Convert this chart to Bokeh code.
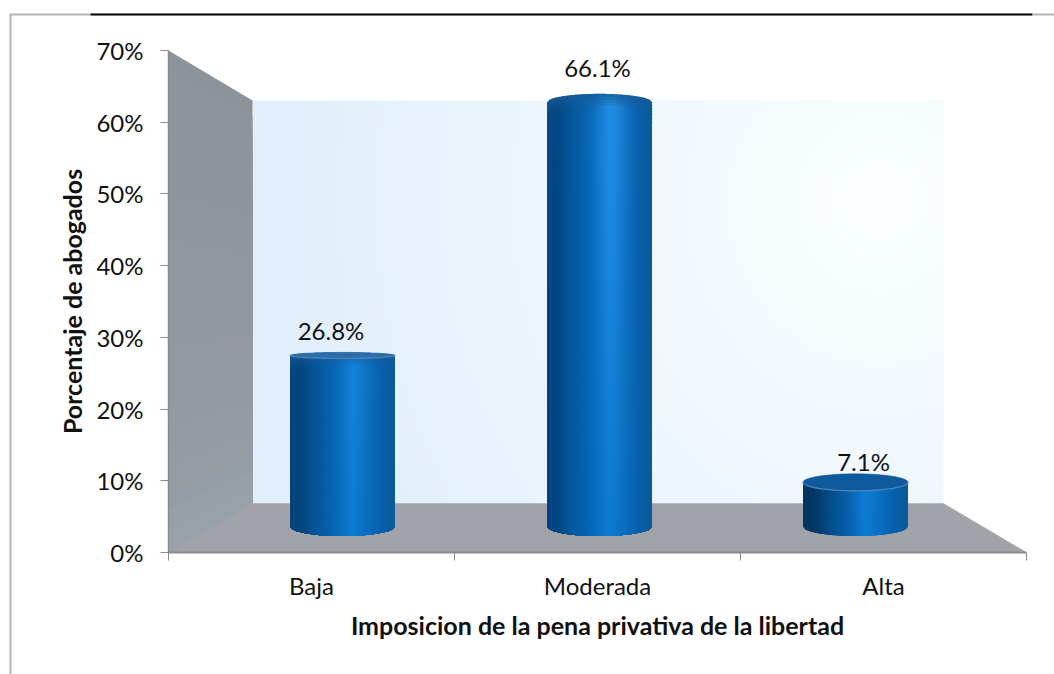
import numpy as np
from bokeh.plotting import figure
from bokeh.embed import file_html
from bokeh.resources import INLINE
from bokeh.models import FixedTicker, ColumnDataSource
from bokeh.core.properties import value

categories = ["Baja", "Moderada", "Alta"]
porcentajes = [26.8, 66.1, 7.1]
etiquetas = ["26.8%", "66.1%", "7.1%"]
y_ticks = [0, 10, 20, 30, 40, 50, 60, 70]
x_title = "Imposicion de la pena privativa de la libertad"
y_title = "Porcentaje de abogados"

# page geometry of the axes box
FL, FR, FT, FB = 168.0, 1026.0, 50.0, 552.0
SX = (FR - FL) / 3.0
SY = (FB - FT) / 70.0
W, H = 1054, 674


def dx(px):
    return (np.asarray(px, dtype=float) - FL) / SX


def dy(py):
    return (FB - np.asarray(py, dtype=float)) / SY


# oblique box: back plane in page pixels
BL, BR, BT, BB = 252.0, 943.0, 100.0, 503.0

# the plot frame fills the page; the axes sit at fixed places inside it
p = figure(width=W, height=H,
           x_range=(float(dx(0)), float(dx(W))), y_range=(float(dy(H)), float(dy(0))),
           output_backend="svg", toolbar_location=None,
           min_border=0, outline_line_color=None,
           background_fill_color="white", border_fill_color="white")
p.grid.visible = False


def hexc(c):
    c = np.clip(np.round(c), 0, 255).astype(int)
    return "#%02x%02x%02x" % (c[0], c[1], c[2])


def rgb(h):
    return np.array([int(h[i:i + 2], 16) for i in (1, 3, 5)], dtype=float)


# back wall
nx, ny = 173, 101
gx = np.linspace(BL, BR, nx)
gy = np.linspace(BB, BT, ny)
X, Y = np.meshgrid(gx, gy)
d = np.clip(np.hypot(X - 880, (Y - 200) * 0.9) / 600, 0, 1)
c0, c1 = rgb("#fbffff"), rgb("#e1eefb")
img = np.zeros((ny, nx, 4), dtype=np.uint8)
for k in range(3):
    img[:, :, k] = np.round(c0[k] + (c1[k] - c0[k]) * d)
img[:, :, 3] = 255
rgba = img.view(np.uint32).reshape(ny, nx)
p.image_rgba(image=[rgba], x=[float(dx(BL))], y=[float(dy(BB))],
             dw=[float(dx(BR) - dx(BL))], dh=[float(dy(BT) - dy(BB))])

# left wall (bands painted top to bottom with overlap)
xs, ys, cols = [], [], []
wall_top, wall_mid, wall_bot = rgb("#8c9499"), rgb("#93999e"), rgb("#9aa3ad")
NB = 24
for j in range(NB):
    u0 = j / NB
    ya0 = FT + (FB - FT) * u0
    yb0 = BT + (BB - BT) * u0
    ym = 0.5 * (ya0 + yb0)
    if ym < 350:
        c = wall_top + (wall_mid - wall_top) * (ym - 50) / 300
    else:
        c = wall_mid + (wall_bot - wall_mid) * ((ym - 350) / 200) ** 1.5
    xs.append(dx([FL, BL, BL, FL]).tolist())
    ys.append(dy([ya0, yb0, BB, FB]).tolist())
    cols.append(hexc(c))
p.patches(xs, ys, fill_color=cols, line_color=None)

# floor
p.patch(dx([FL, BL, BR, FR]).tolist(), dy([FB, BB, BB, FB]).tolist(),
        fill_color="#a1a3a9", line_color="#a1a3a9", line_width=0.5)

# cylinders
CX = [342.0, 599.0, 855.0]
HALF_W = 52.5
BASE_Y, SCALE_Y, BOT_B = 527.5, 6.44, 9.5
top_b = [3.0, 8.5, 8.5]
top_mode = ["flat", "dome", "open"]
left_shade = [0.95, 1.0, 0.72]

stops_t = np.array([0, .1, .25, .45, .6, .72, .88, 1.0])
stops_c = np.array([rgb(h) for h in ["#0a4a85", "#034880", "#0559a0", "#0869ba",
                                     "#0c7bd2", "#0a6fc2", "#085faa", "#0b5a98"]])
lift = rgb("#2090e8") - rgb("#0c7bd2")
rim_dark = rgb("#1a5a98")


def side_color(t, y, shade, dist):
    c = np.array([np.interp(t, stops_t, stops_c[:, k]) for k in range(3)])
    s = np.clip((530 - y) / 430, 0, 1)
    c = c + lift * s * np.exp(-((t - 0.62) / 0.16) ** 2)
    c = c * (shade + (1 - shade) * np.clip(t / 0.55, 0, 1))
    if dist is not None and dist < 14:
        c = c + (rim_dark - c) * 0.8 * (1 - dist / 14)
    return c


xs, ys, cols = [], [], []
cap_x, cap_y, cap_c = [], [], []
rim_x, rim_y = [], []
for i, v in enumerate(porcentajes):
    yc = BASE_Y - SCALE_Y * v
    cx = CX[i]
    bt = top_b[i]
    mode = top_mode[i]
    right = cx + HALF_W
    edges = np.linspace(cx - HALF_W, right, 54)

    def top_curve(px):
        r = np.sqrt(np.clip(1 - ((px - cx) / HALF_W) ** 2, 0, 1))
        return yc + bt * r if mode == "open" else yc - bt * r

    def bot_curve(px):
        r = np.sqrt(np.clip(1 - ((px - cx) / HALF_W) ** 2, 0, 1))
        return BASE_Y - 1.5 + BOT_B * r

    for n in range(len(edges) - 1):
        a = edges[n]
        b = min(edges[n + 1] + 1.0, right)
        bm = edges[n + 1]
        ta, tb, ba, bb = top_curve(a), top_curve(b), bot_curve(a), bot_curve(b)
        h = 0.5 * (ba + bb - ta - tb)
        off = [0, 3, 6, 9, 12, 16] if mode != "open" else []
        off = off + list(np.arange(20 if off else 0, h, 24)) + [h]
        off = sorted(set(o for o in off if o <= h))
        for o0, o1 in zip(off[:-1], off[1:]):
            u0 = o0 / h
            py = [ta + (ba - ta) * u0, tb + (bb - tb) * u0, bb, ba]
            t = (0.5 * (a + bm) - (cx - HALF_W)) / (2 * HALF_W)
            dist = 0.5 * (o0 + o1) if mode != "open" else None
            ymid = ta + (ba - ta) * 0.5 * (o0 + o1) / h
            cc = side_color(t, ymid, left_shade[i], dist)
            xs.append(dx([a, b, b, a]).tolist())
            ys.append(dy(py).tolist())
            cols.append(hexc(cc))
    if mode != "dome":
        th = np.linspace(0, 2 * np.pi, 73)
        cap_x.append(dx(cx + HALF_W * np.cos(th)).tolist())
        cap_y.append(dy(yc + bt * np.sin(th)).tolist())
        cap_c.append("#0f5a9c" if mode == "open" else "#2c6ca8")
        th2 = np.linspace(0, np.pi, 37)
        rim_x.append(dx(cx + HALF_W * np.cos(th2)).tolist())
        rim_y.append(dy(yc + bt * np.sin(th2)).tolist())

p.patches(xs, ys, fill_color=cols, line_color=None)
p.patches(cap_x, cap_y, fill_color=cap_c, line_color=cap_c, line_width=0.5)
p.multi_line(rim_x, rim_y, line_color="#4f88bd", line_width=1.3, line_alpha=0.9)

# data labels
LX = [330.5, 597.0, 863.0]
LOFF = [-25.0, -35.0, -21.0]
lab = ColumnDataSource(dict(
    x=dx(LX).tolist(),
    y=[float(dy(BASE_Y - SCALE_Y * v)) for v in porcentajes],
    t=etiquetas,
    off=LOFF,
))
p.text("x", "y", text="t", source=lab, y_offset="off",
       text_font=value("Lato"), text_font_size="24px", text_color="#111111",
       text_align="center", text_baseline="middle")

# axes
FONT = "Lato"
xa = p.xaxis[0]
xa.fixed_location = 0
xa.bounds = (0, 3)
xa.ticker = FixedTicker(ticks=[0.5, 1.5, 2.5], minor_ticks=[0, 1, 2, 3])
xa.major_label_overrides = {0.5: categories[0], 1.5: categories[1], 2.5: categories[2]}
xa.major_tick_line_color = None
xa.major_tick_in = 0
xa.major_tick_out = 0
xa.minor_tick_in = 0
xa.minor_tick_out = 8
xa.minor_tick_line_color = "#8a8a8a"
xa.minor_tick_line_width = 1
xa.axis_line_color = "#8a8a8a"
xa.axis_line_width = 2
xa.major_label_text_font = FONT
xa.major_label_text_font_size = "24px"
xa.major_label_text_color = "#111111"
xa.major_label_standoff = 10
xa.axis_label = x_title
xa.axis_label_text_font = FONT
xa.axis_label_text_font_style = "bold"
xa.axis_label_text_font_size = "25px"
xa.axis_label_text_color = "#111111"
xa.axis_label_standoff = 7

ya = p.yaxis[0]
ya.fixed_location = 0
ya.bounds = (0, 70)
ya.ticker = FixedTicker(ticks=y_ticks)
ya.major_label_overrides = {t: "%d%%" % t for t in y_ticks}
ya.major_tick_in = 0
ya.major_tick_out = 8
ya.major_tick_line_color = "#8a8a8a"
ya.minor_tick_line_color = None
ya.axis_line_color = "#8a8a8a"
ya.axis_line_width = 1.5
ya.major_label_text_font = FONT
ya.major_label_text_font_size = "24px"
ya.major_label_text_color = "#111111"
ya.major_label_standoff = 17
ya.axis_label = y_title
ya.axis_label_text_font = FONT
ya.axis_label_text_font_style = "bold"
ya.axis_label_text_font_size = "25px"
ya.axis_label_text_color = "#111111"
ya.axis_label_standoff = 6

# page frame lines
rule_l = [9.0, 9.0, 90.0, 1032.0]
rule_r = [11.0, 90.0, 1032.0, 1054.0]
rule_t = [14.0, 13.0, 13.0, 13.0]
rule_b = [674.0, 15.0, 15.0, 15.0]
rule_c = ["#b4b4b4", "#b4b4b4", "#000000", "#b4b4b4"]
p.quad(left=dx(rule_l).tolist(), right=dx(rule_r).tolist(),
       top=dy(rule_t).tolist(), bottom=dy(rule_b).tolist(),
       fill_color=rule_c, line_color=None)

open("out.html", "w").write(file_html(p, INLINE))
